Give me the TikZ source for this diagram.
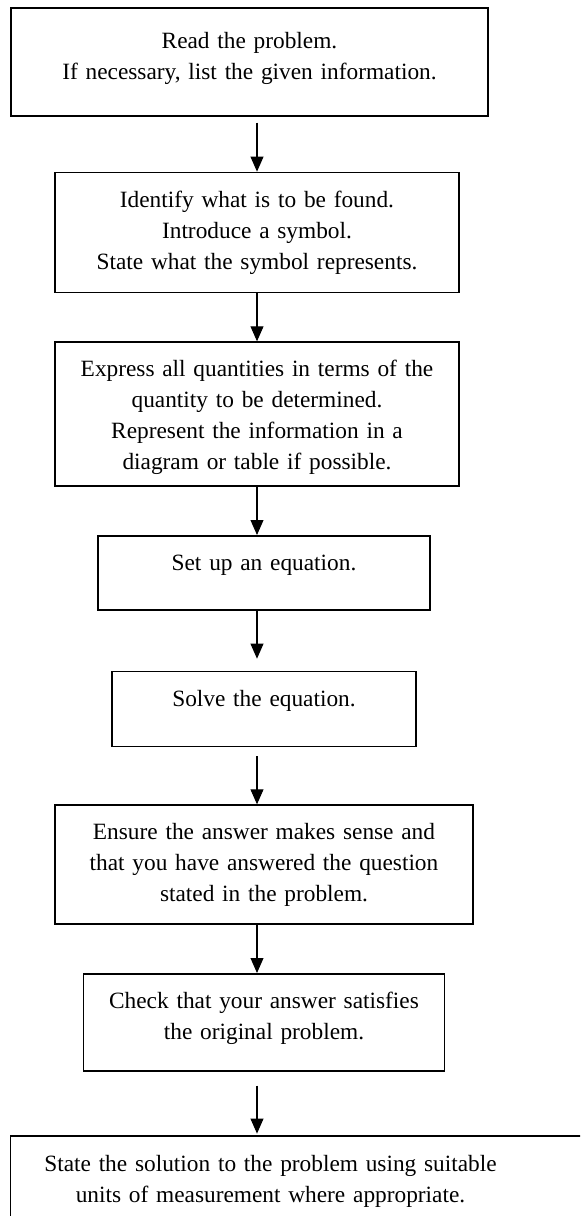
\documentclass[tikz,border=0pt]{standalone}
\usepackage{fontspec}
\setmainfont{Liberation Serif}
\usetikzlibrary{positioning,arrows.meta}

\begin{document}
\begin{tikzpicture}[
    x=0.48pt, y=-0.48pt,
    box/.style={draw, line width=0.8pt, align=center, inner xsep=0pt, inner ysep=0pt,
        text height=16.6pt, font=\fontsize{11.2}{14.9}\selectfont},
    flow/.style={-{Triangle[length=7.2pt,width=6.2pt]}, line width=0.5pt}
  ]
  \useasboundingbox (0,0) rectangle (580,1216);
  \clip (0,0) rectangle (580,1216);
  \coordinate (spine) at (257,0);

  % Steps, top to bottom
  \node[box, anchor=north, text width=228.96pt, text height=19.68pt, text depth=32.16pt] (read) at (249.5,7)
    {Read the problem.\\If necessary, list the given information.};
  \node[box, below=26.4pt of read, xshift=3.6pt, text width=193.92pt, text depth=41pt] (identify)
    {Identify what is to be found.\\Introduce a symbol.\\State what the symbol represents.};
  \node[box, below=23.04pt of identify, text width=193.92pt, text depth=52.52pt] (express)
    {Express all quantities in terms of the\\quantity to be determined.\\Represent the information in a\\diagram or table if possible.};
  \node[box, below=23.04pt of express, xshift=3.36pt, text width=159.36pt, text depth=18.92pt] (setup)
    {Set up an equation.};
  \node[box, below=28.8pt of setup, text width=145.92pt, text depth=19.4pt] (solve)
    {Solve the equation.};
  \node[box, below=27.36pt of solve, text width=200.64pt, text depth=40.52pt] (ensure)
    {Ensure the answer makes sense and\\that you have answered the question\\stated in the problem.};
  \node[box, below=23.04pt of ensure, text width=173.28pt, text depth=29.96pt] (check)
    {Check that your answer satisfies\\the original problem.};

  % Last step runs off the page
  \node[box, draw=none, below=30.72pt of check, xshift=3.12pt, text width=248.64pt, text depth=45.8pt] (solution)
    {State the solution to the problem using suitable\\units of measurement where appropriate.};
  \draw[line width=0.8pt] (solution.south west) rectangle ([xshift=40pt]solution.north east);

  % Arrows
  \draw[flow, shorten <=2.88pt] (spine |- read.south) -- (spine |- identify.north);
  \draw[flow] (spine |- identify.south) -- (spine |- express.north);
  \draw[flow] (spine |- express.south) -- (spine |- setup.north);
  \draw[flow, shorten >=5.76pt] (spine |- setup.south) -- (spine |- solve.north);
  \draw[flow, shorten <=4.32pt] (spine |- solve.south) -- (spine |- ensure.north);
  \draw[flow] (spine |- ensure.south) -- (spine |- check.north);
  \draw[flow, shorten <=6.72pt, shorten >=1pt] (spine |- check.south) -- (spine |- solution.north);
\end{tikzpicture}
\end{document}
